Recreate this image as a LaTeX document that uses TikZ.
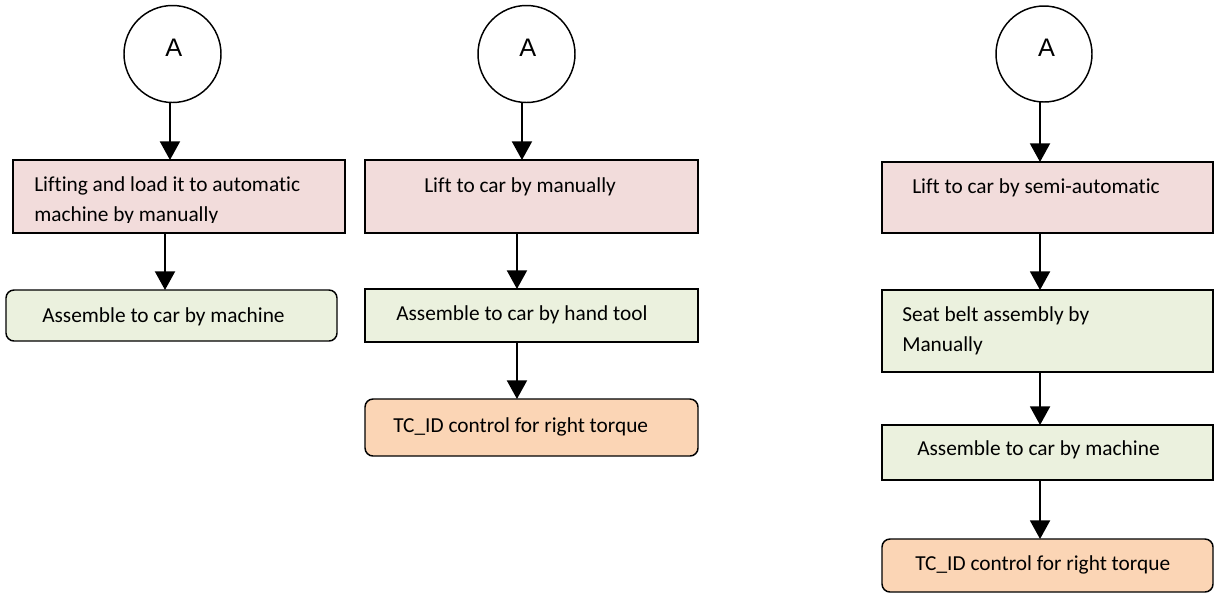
\documentclass[tikz,border=0pt]{standalone}
\usepackage{fontspec}
\setmainfont{Carlito}[Ligatures=NoCommon]
\newfontfamily\letterfont{Liberation Sans}
\usetikzlibrary{arrows.meta,calc}
\definecolor{liftfill}{HTML}{F2DCDB}
\definecolor{assyfill}{HTML}{EBF1DE}
\definecolor{ctrlfill}{HTML}{FBD5B5}
\begin{document}
\begin{tikzpicture}[x=0.75pt,y=-0.75pt,
  conn/.style={circle, draw=black, line width=1.1pt, fill=white, inner sep=0pt, outer sep=0pt, minimum size=72.75pt},
  conntext/.style={font=\letterfont\fontsize{19}{22}\selectfont, inner sep=0pt},
  box/.style={rectangle, draw=black, line width=1.1pt, inner sep=0pt, outer sep=0pt},
  liftbox/.style={box, fill=liftfill},
  assybox/.style={box, fill=assyfill},
  roundbox/.style={box, rounded corners=6pt},
  txt/.style={anchor=base west, inner sep=0pt, font=\fontsize{16}{20}\selectfont},
  arr/.style={line width=1.5pt, -{Triangle[width=15pt,length=14pt]}}
]
\useasboundingbox (0,0) rectangle (1217,597);

% ---------- first column ----------
\node[conn, label={[conntext, yshift=4.9pt, xshift=1pt]center:A}] (c1) at (172.5,54) {};
\node[liftbox, minimum width=249pt, minimum height=54.75pt] (b11) at (179,196.5) {};
\node[assybox, roundbox, minimum width=248.25pt, minimum height=38.25pt] (b12) at (171.5,315.5) {};
\node[txt] (t11a) at ($(b11.north west)+(21,31)$) {Lifting and load it to automatic};
\begin{scope}
  \clip (13,160) rectangle (345,222.5);
  \node[txt] (t11b) at ($(b11.north west)+(21,61.5)$) {machine by manually};
\end{scope}
\node[txt] (t12) at ($(b12.north west)+(36,32)$) {Assemble to car by machine};
\draw[arr] ([xshift=-1.9pt]c1.south) -- ([xshift=-1.9pt]c1.south |- b11.north);
\draw[arr] ([xshift=-10.5pt]b11.south) -- ([xshift=-10.5pt]b11.south |- b12.north);

% ---------- second column ----------
\node[conn, label={[conntext, yshift=4.9pt, xshift=1pt]center:A}] (c2) at (526.5,54) {};
\node[liftbox, minimum width=249.75pt, minimum height=54.75pt] (b21) at (531.5,196.5) {};
\node[assybox, minimum width=249.75pt, minimum height=39.75pt] (b22) at (531.5,315.5) {};
\node[box, roundbox, fill=ctrlfill, minimum width=249.75pt, minimum height=42.75pt] (b23) at (531.5,427.5) {};
\node[txt] (t21) at ($(b21.north west)+(59,32)$) {Lift to car by manually};
\node[txt] (t22) at ($(b22.north west)+(31,31)$) {Assemble to car by hand tool};
\node[txt] (t23) at ($(b23.north west)+(28,33)$) {TC\_ID control for right torque};
\draw[arr] ([xshift=-3.4pt]c2.south) -- ([xshift=-3.4pt]c2.south |- b21.north);
\draw[arr] ([xshift=-10.9pt]b21.south) -- ([xshift=-10.9pt]b21.south |- b22.north);
\draw[arr] ([xshift=-10.9pt]b22.south) -- ([xshift=-10.9pt]b22.south |- b23.north);

% ---------- third column ----------
\node[conn, minimum size=72pt, label={[conntext, yshift=4.9pt, xshift=2pt]center:A}] (c3) at (1044,54) {};
\node[liftbox, minimum width=248.25pt, minimum height=53.25pt] (b31) at (1047.5,197.5) {};
\node[assybox, minimum width=248.25pt, minimum height=61.5pt] (b32) at (1047.5,331) {};
\node[assybox, minimum width=248.25pt, minimum height=41.25pt] (b33) at (1047.5,452.5) {};
\node[box, roundbox, fill=ctrlfill, minimum width=248.25pt, minimum height=39.75pt] (b34) at (1047.5,565.5) {};
\node[txt] (t31) at ($(b31.north west)+(30,31)$) {Lift to car by semi-automatic};
\node[txt] (t32a) at ($(b32.north west)+(20,31)$) {Seat belt assembly by};
\node[txt] (t32b) at ($(b32.north west)+(20,61)$) {Manually};
\node[txt] (t33) at ($(b33.north west)+(35,30)$) {Assemble to car by machine};
\node[txt] (t34) at ($(b34.north west)+(33,31)$) {TC\_ID control for right torque};
\draw[arr] ([xshift=-3pt]c3.south) -- ([xshift=-3pt]c3.south |- b31.north);
\draw[arr] ([xshift=-5.6pt]b31.south) -- ([xshift=-5.6pt]b31.south |- b32.north);
\draw[arr] ([xshift=-5.6pt]b32.south) -- ([xshift=-5.6pt]b32.south |- b33.north);
\draw[arr] ([xshift=-5.6pt]b33.south) -- ([xshift=-5.6pt]b33.south |- b34.north);
\end{tikzpicture}
\end{document}
